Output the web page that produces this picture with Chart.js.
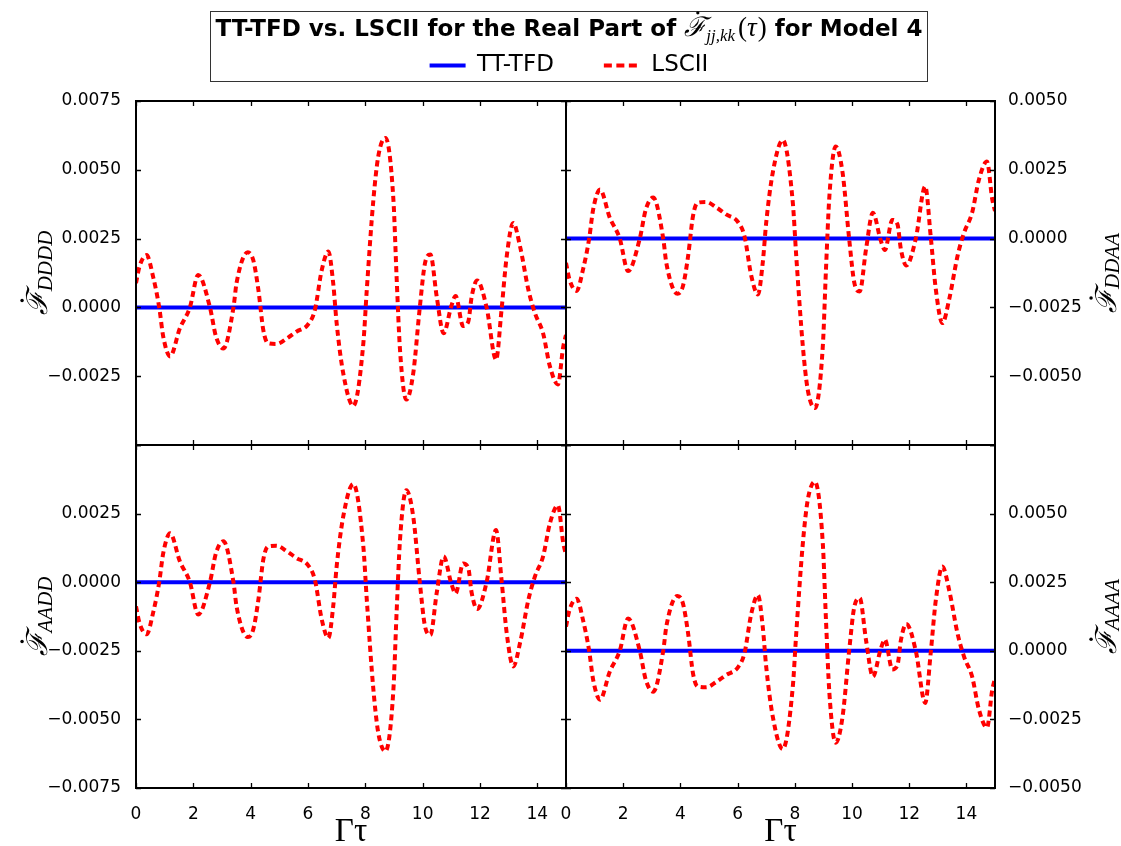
<!DOCTYPE html>
<html>
<head>
<meta charset="utf-8">
<script src="https://cdn.jsdelivr.net/npm/chart.js@4.4.1/dist/chart.umd.min.js"></script>
<style>
html,body{margin:0;padding:0;background:#fff;overflow:hidden;width:1121px;height:846px;}
canvas{position:absolute;}
#legendBox{position:absolute;left:210px;top:11px;width:716px;height:69px;border:1px solid #333;}
</style>
</head>
<body>
<div id="legendBox"></div>
<canvas id="cTL" style="left:0px;top:91px" width="576" height="364"></canvas>
<canvas id="cTR" style="left:556px;top:91px" width="565" height="364"></canvas>
<canvas id="cBL" style="left:0px;top:435px" width="576" height="420"></canvas>
<canvas id="cBR" style="left:556px;top:435px" width="565" height="420"></canvas>
<canvas id="cLeg" style="left:210px;top:4px" width="718" height="78"></canvas>
<script>
// ---------------- data ----------------
const tau = [0, 0.12, 0.37, 0.6, 0.81, 0.95, 1.19, 1.53, 1.88, 2.17, 2.58, 2.79, 3.05, 3.4, 3.51,
  3.9, 4.09, 4.27, 4.44, 4.6, 4.9, 5.26, 5.6, 6.0, 6.24, 6.48, 6.71, 6.88, 7.0, 7.23,
  7.58, 7.93, 8.05, 8.28, 8.45, 8.7, 8.98, 9.09, 9.21, 9.43, 9.67, 9.9, 10.08, 10.27, 10.49,
  10.73, 11.0, 11.15, 11.41, 11.59, 11.71, 11.9, 12.23, 12.56, 12.75, 12.93, 13.16, 13.4, 13.69, 13.92,
  14.2, 14.44, 14.72, 14.9, 15.0];

const lsciiDDDD = [0.00088, 0.00148, 0.0019, 0.0011, 0.0, -0.00106, -0.00178, -0.00076, 0.0, 0.00118, 0.0, -0.00106, -0.00149, 0.0, 0.0009,
  0.002, 0.00172, 0.00063, -0.00082, -0.0013, -0.00133, -0.00113, -0.00088, -0.00062, -0.00009, 0.00136, 0.00203, 0.00087, -0.00058, -0.0024,
  -0.00358, -0.00131, 0.00063, 0.0039, 0.00548, 0.00616, 0.0039, 0.00112, -0.00155, -0.00335, -0.0024, 0.0, 0.0016, 0.00192, 0.00039,
  -0.00094, 0.00005, 0.00041, -0.00068, -0.00052, 0.00039, 0.00098, 0.0, -0.0019, -0.0001, 0.00184, 0.00307, 0.0022, 0.00063, -0.00022,
  -0.00094, -0.00215, -0.0028, -0.00145, -0.001];

const lsciiDDAA = [-0.00088, -0.00148, -0.0019, -0.0011, 0.0, 0.00106, 0.00178, 0.00076, 0.0, -0.00118, 0.0, 0.00106, 0.00149, 0.0, -0.0009,
  -0.002, -0.00172, -0.00063, 0.00082, 0.0013, 0.00133, 0.00113, 0.00088, 0.00062, 0.00009, -0.00136, -0.00203, -0.00087, 0.00058, 0.0024,
  0.00358, 0.00131, -0.00063, -0.0039, -0.00548, -0.00616, -0.0039, -0.00112, 0.00155, 0.00335, 0.0024, 0.0, -0.0016, -0.00192, -0.00039,
  0.00094, -0.00005, -0.00041, 0.00068, 0.00052, -0.00039, -0.00098, 0.0, 0.0019, 0.0001, -0.00184, -0.00307, -0.0022, -0.00063, 0.00022,
  0.00094, 0.00215, 0.0028, 0.00145, 0.001];

const lsciiAADD = [-0.00088, -0.00148, -0.0019, -0.0011, 0.0, 0.00106, 0.00178, 0.00076, 0.0, -0.00118, 0.0, 0.00106, 0.00149, 0.0, -0.0009,
  -0.002, -0.00172, -0.00063, 0.00082, 0.0013, 0.00133, 0.00113, 0.00088, 0.00062, 0.00009, -0.00136, -0.00203, -0.00087, 0.00058, 0.0024,
  0.00358, 0.00131, -0.00063, -0.0039, -0.00548, -0.00616, -0.0039, -0.00112, 0.00155, 0.00335, 0.0024, 0.0, -0.0016, -0.00192, -0.00039,
  0.00094, -0.00005, -0.00041, 0.00068, 0.00052, -0.00039, -0.00098, 0.0, 0.0019, 0.0001, -0.00184, -0.00307, -0.0022, -0.00063, 0.00022,
  0.00094, 0.00215, 0.0028, 0.00145, 0.001];

const lsciiAAAA = [0.00088, 0.00148, 0.0019, 0.0011, 0.0, -0.00106, -0.00178, -0.00076, 0.0, 0.00118, 0.0, -0.00106, -0.00149, 0.0, 0.0009,
  0.002, 0.00172, 0.00063, -0.00082, -0.0013, -0.00133, -0.00113, -0.00088, -0.00062, -0.00009, 0.00136, 0.00203, 0.00087, -0.00058, -0.0024,
  -0.00358, -0.00131, 0.00063, 0.0039, 0.00548, 0.00616, 0.0039, 0.00112, -0.00155, -0.00335, -0.0024, 0.0, 0.0016, 0.00192, 0.00039,
  -0.00094, 0.00005, 0.00041, -0.00068, -0.00052, 0.00039, 0.00098, 0.0, -0.0019, -0.0001, 0.00184, 0.00307, 0.0022, 0.00063, -0.00022,
  -0.00094, -0.00215, -0.0028, -0.00145, -0.001];

const tauTT = [0, 15];
const ttDDDD = [0, 0];
const ttDDAA = [0, 0];
const ttAADD = [0, 0];
const ttAAAA = [0, 0];

const seriesNames = ['TT-TFD', 'LSCII'];
const titleText = ['TT-TFD vs. LSCII for the Real Part of ', 'ℱ', 'jj,kk', '(', 'τ', ')', ' for Model 4'];
const xTitle = 'Γτ';

// ---------------- helpers ----------------
Chart.defaults.color = '#000';
Chart.defaults.font.family = "'DejaVu Sans', sans-serif";

const BLUE = '#0000ff', RED = '#ff0000';
function pts(xs, ys) { return xs.map((x, i) => ({x: x, y: ys[i]})); }
function fmt(v) {
  if (Math.abs(v) < 1e-12) v = 0;
  const s = Math.abs(v).toFixed(4);
  return (v < 0 ? '\u2212' : '') + s;
}
function noPad(s) { s.paddingTop = 0; s.paddingBottom = 0; s.paddingLeft = 0; s.paddingRight = 0; }

const framePlugin = {
  id: 'frame',
  afterDatasetsDraw(chart) {
    const {ctx, chartArea: a, scales: {x, y}} = chart;
    ctx.save();
    ctx.strokeStyle = '#000';
    ctx.lineWidth = 1.3;
    ctx.beginPath();
    x.ticks.forEach(t => {
      const px = Math.round(x.getPixelForValue(t.value)) + 0.5;
      ctx.moveTo(px, a.bottom); ctx.lineTo(px, a.bottom - 5);
      ctx.moveTo(px, a.top); ctx.lineTo(px, a.top + 5);
    });
    y.ticks.forEach(t => {
      const py = Math.round(y.getPixelForValue(t.value)) + 0.5;
      ctx.moveTo(a.left, py); ctx.lineTo(a.left + 5, py);
      ctx.moveTo(a.right, py); ctx.lineTo(a.right - 5, py);
    });
    ctx.stroke();
    ctx.lineWidth = 2;
    ctx.strokeRect(a.left, a.top, a.right - a.left, a.bottom - a.top);
    ctx.restore();
  }
};

// draws a dotted calligraphic F with a subscript; rotated when rot is set
function drawDotF(ctx, x, y, sizeMain, sizeSub, subTxt, subDy, rot) {
  ctx.save();
  ctx.translate(x, y);
  if (rot) ctx.rotate(-Math.PI / 2);
  ctx.fillStyle = '#000';
  ctx.textBaseline = 'alphabetic';
  ctx.textAlign = 'left';
  const fMain = 'italic ' + sizeMain + "px 'DejaVu Serif', serif";
  const fSub = 'italic ' + sizeSub + "px 'Liberation Serif', serif";
  ctx.font = fMain; const w1 = ctx.measureText('ℱ').width;
  ctx.font = fSub; const w2 = ctx.measureText(subTxt).width;
  const x0 = rot ? -(w1 + w2) / 2 : 0;
  ctx.font = fMain; ctx.fillText('ℱ', x0, 0);
  ctx.beginPath();
  ctx.arc(x0 + w1 * 0.62, -sizeMain * 0.86, sizeMain * 0.06, 0, Math.PI * 2);
  ctx.fill();
  ctx.font = fSub; ctx.fillText(subTxt, x0 + w1, subDy);
  ctx.restore();
  return w1 + w2;
}

function makePanel(id, opt) {
  const yTitlePlugin = {
    id: 'ytitle',
    afterDraw(chart) {
      const a = chart.chartArea;
      drawDotF(chart.ctx, opt.titleX, (a.top + a.bottom) / 2, 29, 21, opt.sub, opt.subDy, true);
    }
  };
  return new Chart(document.getElementById(id), {
    type: 'line',
    data: {
      datasets: [
        {label: seriesNames[0], data: pts(tauTT, opt.tt), borderColor: BLUE, borderWidth: 4,
         pointRadius: 0, fill: false, order: 1},
        {label: seriesNames[1], data: pts(tau, opt.ls), borderColor: RED, borderWidth: 4,
         borderDash: [6, 4], pointRadius: 0, fill: false, cubicInterpolationMode: 'monotone', order: 0}
      ]
    },
    options: {
      responsive: false, animation: false,
      layout: {padding: opt.pad},
      plugins: {legend: {display: false}, tooltip: {enabled: false}},
      scales: {
        x: {
          type: 'linear', position: 'bottom', min: 0, max: 15,
          grid: {display: false}, border: {display: false},
          ticks: {display: opt.showX, stepSize: 2, includeBounds: false, autoSkip: false,
                  maxRotation: 0, padding: 8, font: {size: 17},
                  callback: v => String(v)},
          title: {display: opt.showX, text: xTitle,
                  font: {family: "'Liberation Serif', serif", size: 33}, padding: {top: 0, bottom: 3}},
          afterFit: s => { s.height = opt.xh; noPad(s); }
        },
        y: {
          type: 'linear', position: opt.ypos, min: opt.ymin, max: opt.ymax,
          grid: {display: false}, border: {display: false},
          ticks: {stepSize: 0.0025, padding: opt.ypad, font: {size: 17}, autoSkip: false,
                  callback: v => (Math.abs(v - opt.hide) < 1e-9 ? '' : fmt(v))},
          afterFit: s => { s.width = opt.yw; noPad(s); }
        }
      }
    },
    plugins: [framePlugin, yTitlePlugin]
  });
}

makePanel('cTL', {tt: ttDDDD, ls: lsciiDDDD, sub: 'DDDD', ymin: -0.005, ymax: 0.0075, hide: -0.005,
  ypos: 'left', yw: 136, ypad: 7, xh: 0, showX: false, titleX: 47, subDy: 5,
  pad: {left: 0, right: 10, top: 10, bottom: 10}});
makePanel('cTR', {tt: ttDDAA, ls: lsciiDDAA, sub: 'DDAA', ymin: -0.0075, ymax: 0.005, hide: -0.0075,
  ypos: 'right', yw: 126, ypad: 5, xh: 0, showX: false, titleX: 1116 - 556, subDy: 3,
  pad: {left: 10, right: 0, top: 10, bottom: 10}});
makePanel('cBL', {tt: ttAADD, ls: lsciiAADD, sub: 'AADD', ymin: -0.0075, ymax: 0.005, hide: 0.005,
  ypos: 'left', yw: 136, ypad: 7, xh: 67, showX: true, titleX: 47, subDy: 5,
  pad: {left: 0, right: 10, top: 10, bottom: 0}});
makePanel('cBR', {tt: ttAAAA, ls: lsciiAAAA, sub: 'AAAA', ymin: -0.005, ymax: 0.0075, hide: 0.0075,
  ypos: 'right', yw: 126, ypad: 5, xh: 67, showX: true, titleX: 1116 - 556, subDy: 3,
  pad: {left: 10, right: 0, top: 10, bottom: 0}});

// ---------------- legend with title ----------------
const legendTitlePlugin = {
  id: 'legtitle',
  afterDraw(chart) {
    const ctx = chart.ctx;
    const bold = "bold 23px 'DejaVu Sans', sans-serif";
    const paren = "27px 'Liberation Serif', serif";
    const tauF = "italic 27px 'Liberation Serif', serif";
    ctx.save();
    ctx.fillStyle = '#000';
    ctx.textBaseline = 'alphabetic';
    ctx.textAlign = 'left';
    ctx.font = bold;
    const wA = ctx.measureText(titleText[0]).width;
    const wE = ctx.measureText(titleText[6]).width;
    ctx.font = "italic 27px 'DejaVu Serif', serif"; const wF = ctx.measureText(titleText[1]).width;
    ctx.font = "italic 17px 'Liberation Serif', serif"; const wS = ctx.measureText(titleText[2]).width;
    ctx.font = paren; const wL = ctx.measureText(titleText[3]).width; const wR = ctx.measureText(titleText[5]).width;
    ctx.font = tauF; const wT = ctx.measureText(titleText[4]).width;
    const gap = 3;
    const total = wA + wF + wS + gap + wL + wT + 1 + wR + wE;
    let x = chart.width / 2 - total / 2;
    const base = 32;
    ctx.font = bold; ctx.fillText(titleText[0], x, base); x += wA;
    drawDotF(ctx, x, base, 27, 17, titleText[2], 5, false); x += wF + wS + gap;
    ctx.font = paren; ctx.fillText(titleText[3], x, base); x += wL;
    ctx.font = tauF; ctx.fillText(titleText[4], x, base); x += wT + 1;
    ctx.font = paren; ctx.fillText(titleText[5], x, base); x += wR;
    ctx.font = bold; ctx.fillText(titleText[6], x, base);
    ctx.restore();
  }
};

new Chart(document.getElementById('cLeg'), {
  type: 'line',
  data: {
    datasets: [
      {label: seriesNames[0], data: [], borderColor: BLUE, backgroundColor: BLUE, borderWidth: 4},
      {label: seriesNames[1], data: [], borderColor: RED, backgroundColor: RED, borderWidth: 4, borderDash: [8, 4.5]}
    ]
  },
  options: {
    responsive: false, animation: false,
    layout: {padding: 0},
    scales: {x: {display: false}, y: {display: false}},
    plugins: {
      tooltip: {enabled: false},
      legend: {
        display: true, position: 'top', align: 'center', maxHeight: 78,
        labels: {
          usePointStyle: true, pointStyle: 'line', pointStyleWidth: 36, padding: 50,
          font: {size: 23}, color: '#000',
          generateLabels(chart) {
            const items = Chart.defaults.plugins.legend.labels.generateLabels(chart);
            items.forEach(it => {
              const ds = chart.data.datasets[it.datasetIndex];
              it.lineDash = ds.borderDash || [];
              it.lineWidth = ds.borderWidth;
              it.strokeStyle = ds.borderColor;
              it.pointStyle = 'line';
            });
            return items;
          }
        }
      }
    }
  },
  plugins: [legendTitlePlugin]
});
</script>
</body>
</html>
